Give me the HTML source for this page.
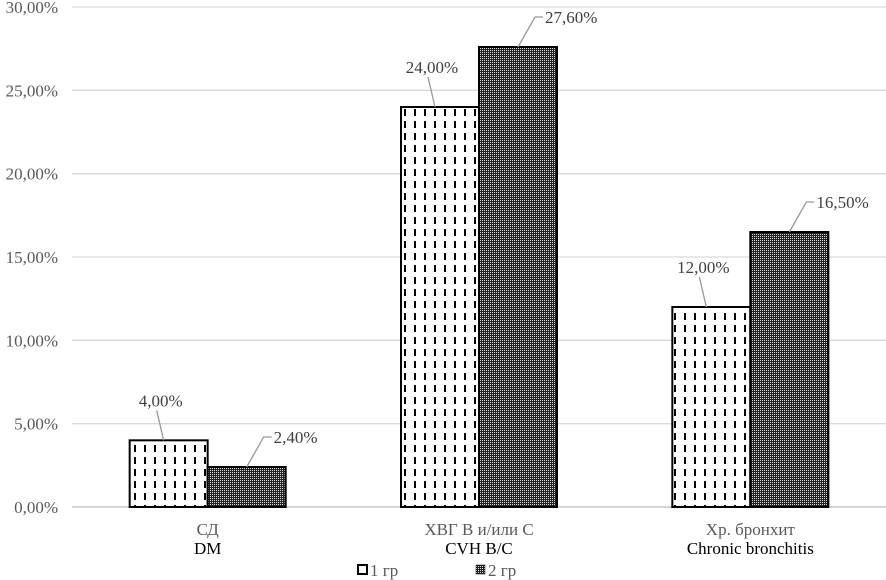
<!DOCTYPE html>
<html><head><meta charset="utf-8"><style>
body{margin:0;background:#fff}
svg{display:block}
svg text{font-family:"Liberation Serif","DejaVu Serif",serif}
</style></head><body>
<svg id="c" width="886" height="580" viewBox="0 0 886 580" font-family="Liberation Serif, serif">
<defs>
<pattern id="dash" width="10" height="12" patternUnits="userSpaceOnUse">
<rect width="10" height="12" fill="#fff"/><rect x="4" y="1" width="2" height="7" fill="#000"/>
</pattern>
<pattern id="chk" width="2" height="2" patternUnits="userSpaceOnUse">
<rect width="2" height="2" fill="#222"/><rect width="1" height="1" fill="#ddd"/>
</pattern>
</defs>
<g id="grid"></g><g id="bars"></g><g id="labels"></g>
</svg>
<script>
const categories=["СД","ХВГ В и/или С","Хр. бронхит"];
const categoriesEn=["DM","CVH B/C","Chronic bronchitis"];
const series1=[4.00,24.00,12.00];
const series2=[2.40,27.60,16.50];
const ticks=[0,5,10,15,20,25,30];
const seriesNames=["1 гр","2 гр"];
const NS="http://www.w3.org/2000/svg";
const L=72,R=886,B=507,T=7,MAX=30,BW=78,FS=17;
const y=v=>B-(v/MAX)*(B-T);
const band=(R-L)/categories.length;
const cx=i=>L+band*(i+0.5);
function mk(t,a,p){const e=document.createElementNS(NS,t);for(const k in a)e.setAttribute(k,a[k]);if(t==='text')e.setAttribute('font-family','Liberation Serif, serif');document.getElementById(p).appendChild(e);return e;}
const fmt=v=>v.toFixed(2).replace('.',',')+'%';
ticks.forEach(t=>{
 const l=mk('line',{x1:L,x2:R,y1:y(t),y2:y(t),stroke:t===0?'#bbb':'#d9d9d9','stroke-width':1.3},'grid');
 
 
 const tx=mk('text',{x:58,y:y(t)+6,'text-anchor':'end','font-size':FS,fill:'#595959'},'grid');
 tx.textContent=fmt(t);
 
 
});
categories.forEach((c,i)=>{
 const a=mk('text',{x:cx(i),y:535,'text-anchor':'middle','font-size':FS,fill:'#595959'},'labels');a.textContent=c;
 
 
 const b=mk('text',{x:cx(i),y:554,'text-anchor':'middle','font-size':FS,fill:'#000'},'labels');b.textContent=categoriesEn[i];
 
 
 const v1=series1[i],v2=series2[i];
 const x1=cx(i)-BW,x2=cx(i);
 const r1=mk('rect',{x:x1,y:y(v1),width:BW,height:B-y(v1),fill:'url(#dash)',stroke:'#000','stroke-width':2},'bars');
 
 
 const r2=mk('rect',{x:x2,y:y(v2),width:BW,height:B-y(v2),fill:'url(#chk)',stroke:'#000','stroke-width':2},'bars');
 
 
 const c1=x1+BW/2;
 mk('polyline',{points:`${c1-5},${y(v1)} ${c1-12},${y(v1)-30}`,stroke:'#999',fill:'none','stroke-width':1.3},'labels');
 const t1=mk('text',{x:c1-8,y:y(v1)-34,'text-anchor':'middle','font-size':FS,fill:'#404040'},'labels');t1.textContent=fmt(v1);
 
 
 const c2=x2+BW/2;
 mk('polyline',{points:`${c2},${y(v2)} ${c2+17},${y(v2)-30} ${c2+25},${y(v2)-30}`,stroke:'#999',fill:'none','stroke-width':1.3},'labels');
 const t2=mk('text',{x:c2+27,y:y(v2)-24,'font-size':FS,fill:'#404040'},'labels');t2.textContent=fmt(v2);
 
 
});
const fills=['url(#dash)','url(#chk)'],lx=[358,476];
seriesNames.forEach((s,i)=>{
 const r=mk('rect',{x:lx[i],y:565,width:9,height:9,fill:i?fills[1]:'#fff',stroke:'#000','stroke-width':i?0.5:2},'labels');
 
 
 const t=mk('text',{x:lx[i]+12,y:576,'font-size':FS,fill:'#595959'},'labels');t.textContent=s;
 
 
});
</script>
</body></html>
